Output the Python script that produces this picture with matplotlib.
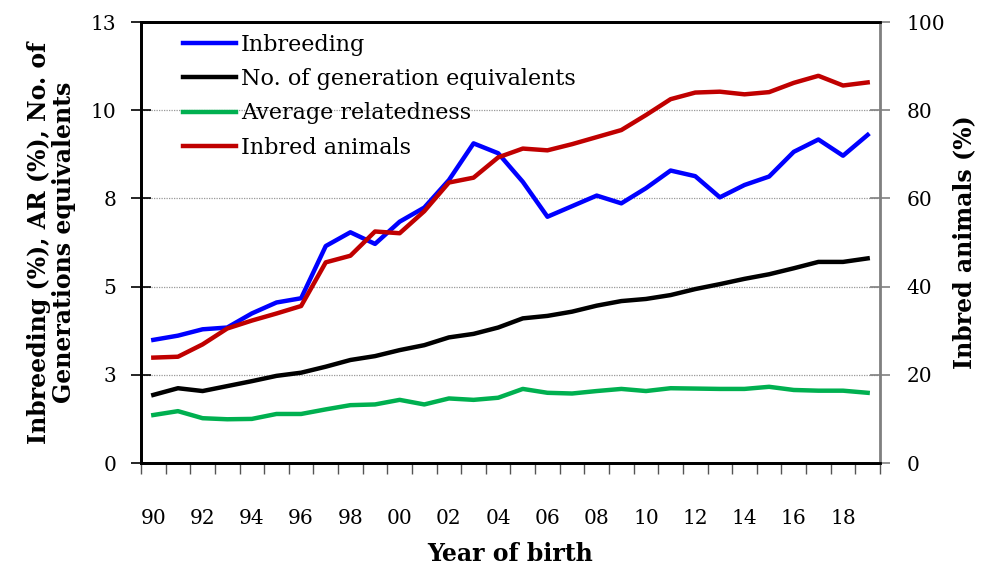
import numpy as np
import matplotlib.pyplot as plt

plt.rcParams['font.family'] = ['DejaVu Serif']

years = np.arange(1990, 2020)
inbreeding = [3.49, 3.61, 3.79, 3.84, 4.24, 4.55, 4.67, 6.15, 6.54, 6.21,
              6.84, 7.24, 8.02, 9.06, 8.78, 7.97, 6.98, 7.28, 7.58, 7.36,
              7.79, 8.29, 8.13, 7.53, 7.88, 8.12, 8.82, 9.17, 8.71, 9.30]
gen_equiv = [1.93, 2.12, 2.04, 2.18, 2.32, 2.47, 2.56, 2.73, 2.92, 3.03,
             3.20, 3.34, 3.56, 3.66, 3.84, 4.10, 4.17, 4.29, 4.46, 4.59,
             4.65, 4.76, 4.93, 5.07, 5.22, 5.35, 5.52, 5.70, 5.70, 5.80]
avg_rel = [1.36, 1.47, 1.27, 1.24, 1.25, 1.39, 1.39, 1.52, 1.64, 1.66,
           1.79, 1.66, 1.83, 1.79, 1.85, 2.10, 1.99, 1.97, 2.04, 2.10,
           2.04, 2.12, 2.11, 2.10, 2.10, 2.16, 2.07, 2.05, 2.05, 1.99]
inbred_animals = [23.9, 24.1, 26.9, 30.5, 32.3, 33.9, 35.6, 45.5, 47.0, 52.5,
                  52.1, 57.1, 63.6, 64.7, 69.3, 71.3, 70.9, 72.3, 73.9, 75.5,
                  78.9, 82.5, 84.0, 84.2, 83.6, 84.1, 86.2, 87.8, 85.6, 86.3]

left_ticks = [0, 2.5, 5, 7.5, 10, 12.5]
left_labels = ['0', '3', '5', '8', '10', '13']

fig = plt.figure(figsize=(9.82, 5.70), dpi=100)
ax = fig.add_axes([0.1436, 0.1877, 0.7525, 0.7737])
ax2 = ax.twinx()

x = np.arange(len(years))
lw = 3.2
l1, = ax.plot(x, inbreeding, color='#0000FF', lw=lw, label='Inbreeding')
l2, = ax.plot(x, gen_equiv, color='black', lw=lw, label='No. of generation equivalents')
l3, = ax.plot(x, avg_rel, color='#00B050', lw=lw, label='Average relatedness')
l4, = ax2.plot(x, inbred_animals, color='#C00000', lw=lw, label='Inbred animals')

ax.set_xlim(-0.5, len(years) - 0.5)
ax.set_ylim(0, 12.5)
ax2.set_ylim(0, 100)
ax.set_yticks(left_ticks)
ax.set_yticklabels(left_labels)
ax2.set_yticks(range(0, 101, 20))

ax.set_xticks(x[::2])
ax.set_xticklabels([f'{y % 100:02d}' for y in years[::2]])
ax.set_xticks(np.arange(-0.5, len(years)), minor=True)
ax.tick_params(axis='x', which='major', length=0, pad=33, labelsize=14.5)
ax.tick_params(axis='x', which='minor', length=8, width=1, color='#555555', direction='out')
ax.tick_params(axis='y', length=14, width=1.2, direction='inout', labelsize=14.5, pad=11)
ax2.tick_params(axis='y', length=14, width=1.2, direction='inout', color='#808080',
                labelsize=14.5, pad=12)

ax.grid(axis='y', linestyle=(0, (1, 1)), color='#999999', lw=0.9)
for s in ['left', 'bottom', 'top']:
    ax.spines[s].set_linewidth(2)
    ax2.spines[s].set_linewidth(2)
ax2.spines['right'].set_color('#808080')
ax2.spines['right'].set_linewidth(2)

ax.set_xlabel('Year of birth', fontsize=17, fontweight='bold', labelpad=10)
ax.set_ylabel('Inbreeding (%), AR (%), No. of\nGenerations equivalents',
              fontsize=17, fontweight='bold', labelpad=10, linespacing=1.05)
ax2.set_ylabel('Inbred animals (%)', fontsize=17, fontweight='bold', labelpad=5)

ax2.legend(handles=[l1, l2, l3, l4], loc='upper left', bbox_to_anchor=(0.045, 0.993),
           frameon=False, fontsize=16, handlelength=2.4, handletextpad=0.2,
           labelspacing=0.55, borderaxespad=0)

fig.savefig('out.png', dpi=100)
